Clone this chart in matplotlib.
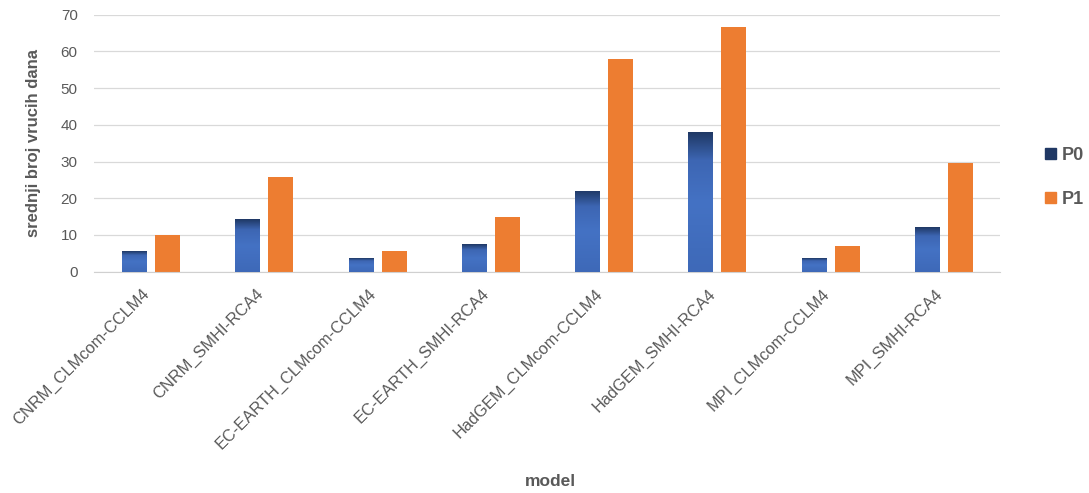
import numpy as np
import matplotlib
matplotlib.use("Agg")
import matplotlib.pyplot as plt
import matplotlib.transforms as mtransforms
from matplotlib.colors import LinearSegmentedColormap
from matplotlib.patches import Patch

plt.rcParams['font.family'] = ['Liberation Sans', 'DejaVu Sans']

models = ["CNRM_CLMcom-CCLM4", "CNRM_SMHI-RCA4", "EC-EARTH_CLMcom-CCLM4",
          "EC-EARTH_SMHI-RCA4", "HadGEM_CLMcom-CCLM4", "HadGEM_SMHI-RCA4",
          "MPI_CLMcom-CCLM4", "MPI_SMHI-RCA4"]
p0 = [5.5, 14.3, 3.7, 7.6, 22.1, 38.1, 3.7, 12.1]
p1 = [10.0, 25.7, 5.5, 15.0, 58.0, 66.8, 7.1, 29.6]
yticks = [0, 10, 20, 30, 40, 50, 60, 70]

fig = plt.figure(figsize=(10.89, 4.93), dpi=100)
ax = fig.add_axes([0.0867, 0.449, 0.832, 0.521])

x = np.arange(len(models))
w = 0.22
off = 0.146
orange = "#ed7d31"

# P0 bars: blue body, darkening towards the top
cmap = LinearSegmentedColormap.from_list(
    "p0", [(0.0, "#3e69b8"), (0.5, "#4472c4"), (0.8, "#3d66b3"), (1.0, "#1f3864")])
grad = np.linspace(0, 1, 256).reshape(-1, 1)
bars0 = ax.bar(x - off, p0, w, color="#4472c4", zorder=2)
for b in bars0:
    x0, h = b.get_x(), b.get_height()
    im = ax.imshow(grad, extent=[x0, x0 + b.get_width(), 0, h], origin="lower",
                   aspect="auto", cmap=cmap, zorder=3)
    im.set_clip_path(b)
ax.bar(x + off, p1, w, color=orange, zorder=2)

ax.set_xlim(-0.5, len(models) - 0.5)
ax.set_ylim(0, 70)
ax.set_yticks(yticks)
ax.yaxis.grid(True, color="#d9d9d9", linewidth=0.9, zorder=0)
ax.set_axisbelow(True)
for s in ["top", "right", "left"]:
    ax.spines[s].set_visible(False)
ax.spines["bottom"].set_color("#d0d0d0")
ax.tick_params(axis="both", length=0, colors="#595959", labelsize=11)
ax.tick_params(axis="y", pad=12)
ax.set_xticks(x)
ax.set_xticklabels(models, rotation=45, ha="right", rotation_mode="anchor", fontsize=11.8)
ax.tick_params(axis="x", pad=9)
shift = mtransforms.ScaledTranslation(-9 / 100, -2 / 100, fig.dpi_scale_trans)
for lbl in ax.get_xticklabels():
    lbl.set_transform(lbl.get_transform() + shift)

ax.set_ylabel("srednji broj vrucih dana", fontsize=12, fontweight="bold", color="#595959", labelpad=14)
fig.text(0.505, 0.015, "model", fontsize=12.5, fontweight="bold", color="#595959", ha="center")

handles = [Patch(color="#203864", label="P0"), Patch(color=orange, label="P1")]
leg = fig.legend(handles=handles, loc="center left", bbox_to_anchor=(0.945, 0.64),
                 frameon=False, handlelength=0.6, handleheight=0.6, labelspacing=1.5,
                 handletextpad=0.3, prop={"size": 13, "weight": "bold"})
for t in leg.get_texts():
    t.set_color("#595959")

fig.savefig("out.png", dpi=100)
